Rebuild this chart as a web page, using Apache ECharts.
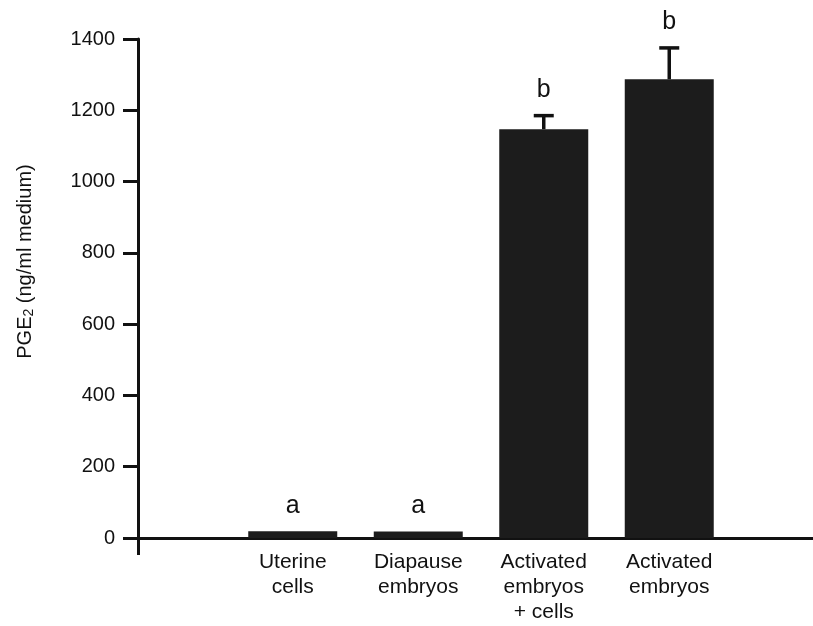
<!DOCTYPE html>
<html>
<head>
<meta charset="utf-8">
<script src="https://cdn.jsdelivr.net/npm/echarts@6/dist/echarts.min.js"></script>
<style>
  html, body { margin: 0; padding: 0; background: #fff; }
  #chart { width: 813px; height: 626px; }
</style>
</head>
<body>
<div id="chart"></div>
<script>
const categories = ["Uterine\ncells", "Diapause\nembryos", "Activated\nembryos\n+ cells", "Activated\nembryos"];
const means = [19, 18, 1147, 1287];
const errors = [0, 0, 38, 88];
const letters = ["a", "a", "b", "b"];

const ink = "#111";
const font = "Liberation Sans, Arial, sans-serif";

const chart = echarts.init(document.getElementById("chart"));

const errData = means.map((m, i) => [i, m, errors[i]]);
const letterData = means.map((m, i) => ({ value: [i, m + errors[i]], name: letters[i] }));

chart.setOption({
  animation: false,
  backgroundColor: "#fff",
  grid: [
    { left: 138, right: 0, top: 39, bottom: 88 },
    { left: 230, right: 81, top: 39, bottom: 88 }
  ],
  xAxis: [
    {
      gridIndex: 0,
      type: "value",
      min: 0,
      max: 1,
      axisLine: { lineStyle: { color: ink, width: 3 } },
      axisTick: { customValues: [0], length: 17, lineStyle: { color: ink, width: 3 } },
      axisLabel: { show: false },
      splitLine: { show: false }
    },
    {
      gridIndex: 1,
      type: "category",
      data: categories,
      axisLine: { show: false },
      axisTick: { show: false },
      axisLabel: {
        interval: 0,
        margin: 12,
        color: ink,
        fontSize: 21,
        lineHeight: 25,
        fontFamily: font
      }
    }
  ],
  yAxis: [
    {
      gridIndex: 0,
      type: "value",
      min: 0,
      max: 1400,
      interval: 200,
      name: "PGE{sub|2} (ng/ml medium)",
      nameLocation: "middle",
      nameGap: 102,
      nameTextStyle: {
        color: ink,
        fontSize: 20,
        fontFamily: font,
        padding: [0, 0, 0, 54],
        rich: { sub: { fontSize: 14, verticalAlign: "bottom", padding: [8, 0, 0, 0], color: ink, fontFamily: font } }
      },
      axisLine: { show: true, lineStyle: { color: ink, width: 3 } },
      axisTick: { show: true, length: 15, lineStyle: { color: ink, width: 3 } },
      axisLabel: { margin: 23, color: ink, fontSize: 20, fontFamily: font, formatter: (v) => String(v) },
      splitLine: { show: false }
    },
    {
      gridIndex: 1,
      type: "value",
      min: 0,
      max: 1400,
      show: false
    }
  ],
  series: [
    {
      type: "bar",
      xAxisIndex: 1,
      yAxisIndex: 1,
      data: means,
      barWidth: 89,
      itemStyle: { color: "#1c1c1c" }
    },
    {
      type: "custom",
      xAxisIndex: 1,
      yAxisIndex: 1,
      data: errData,
      renderItem: function (params, api) {
        if (!api.value(2)) return null;
        const i = api.value(0);
        const base = api.coord([i, api.value(1)]);
        const top = api.coord([i, api.value(1) + api.value(2)]);
        const half = 10;
        const style = { stroke: ink, lineWidth: 3.5 };
        return {
          type: "group",
          children: [
            { type: "line", shape: { x1: base[0], y1: base[1], x2: top[0], y2: top[1] }, style: style },
            { type: "line", shape: { x1: top[0] - half, y1: top[1], x2: top[0] + half, y2: top[1] }, style: style }
          ]
        };
      },
      z: 3
    },
    {
      type: "scatter",
      xAxisIndex: 1,
      yAxisIndex: 1,
      data: letterData,
      symbolSize: 0,
      itemStyle: { opacity: 1 },
      label: {
        show: true,
        position: "top",
        distance: 13,
        formatter: "{b}",
        color: ink,
        opacity: 1,
        fontSize: 25,
        fontFamily: font
      }
    }
  ]
});
</script>
</body>
</html>
